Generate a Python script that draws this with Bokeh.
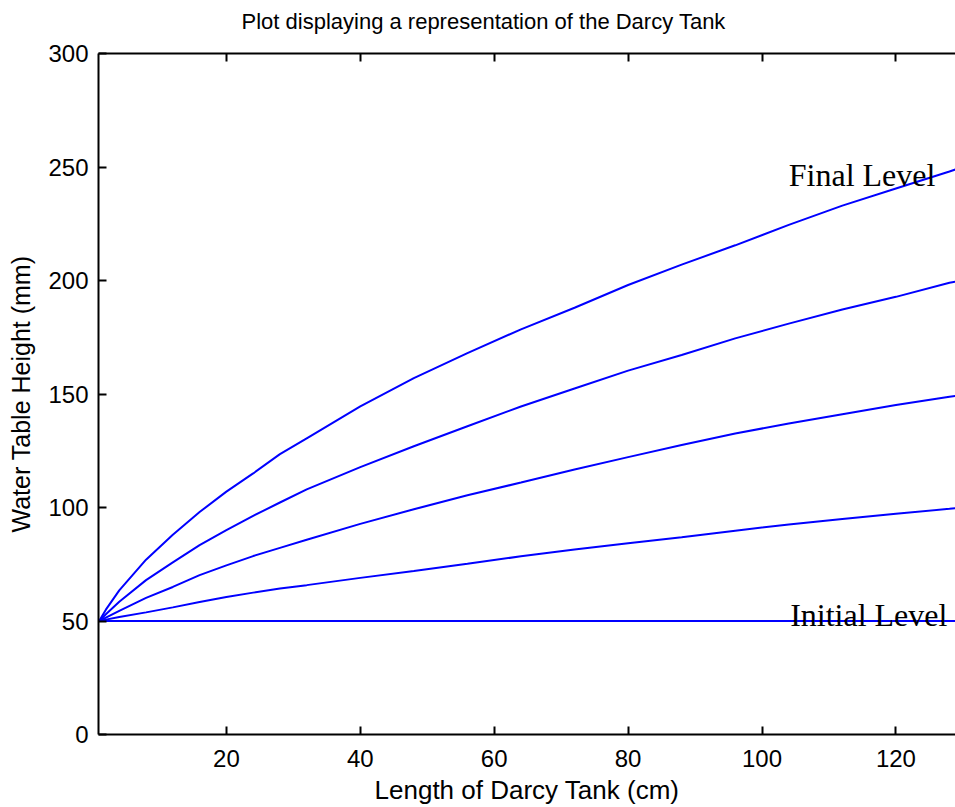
from bokeh.plotting import figure
from bokeh.models import Range1d, LinearAxis, FixedTicker, Label
from bokeh.embed import file_html
from bokeh.resources import INLINE

title_text = "Plot displaying a representation of the Darcy Tank"
x_label = "Length of Darcy Tank (cm)"
y_label = "Water Table Height (mm)"

# Length along the tank (cm)
length_cm = [1, 2, 4, 8, 12, 16, 20, 24, 28, 32, 40, 48, 56, 64, 72, 80, 88, 96, 104, 112, 120, 128, 129]
# Water table heights (mm)
level_100 = [50, 50.6, 51.8, 53.8, 56, 58.4, 60.6, 62.5, 64.3, 65.8, 69, 72, 75.2, 78.5, 81.5, 84.2, 86.9, 89.8, 92.5, 94.9, 97.2, 99.4, 99.7]
level_150 = [50, 51.5, 54.5, 60.2, 65, 70.2, 74.5, 78.6, 82.2, 85.8, 92.8, 99.2, 105.4, 111, 116.7, 122.2, 127.5, 132.6, 137, 141.1, 145.2, 148.8, 149.2]
level_200 = [50, 53, 58.5, 68, 75.8, 83.4, 90, 96.3, 102.2, 108, 117.8, 127, 135.8, 144.5, 152.4, 160.3, 167.2, 174.5, 181, 187.2, 192.8, 199, 199.5]
level_250 = [50, 55, 63.5, 77, 88, 98, 107, 115, 123.5, 130.5, 144.5, 157, 168, 178.5, 188, 198, 207, 215.5, 224.5, 233, 240.5, 248, 249]
initial_x = [1, 129]
initial_y = [50, 50]

x_ticks = [20, 40, 60, 80, 100, 120]
y_ticks = [0, 50, 100, 150, 200, 250, 300]

annot_text = ["Final Level", "Initial Level"]
annot_x = [104, 104.2]
annot_y = [246.5, 52.8]

FONT = "Liberation Sans"
SERIF = "Liberation Serif"
BLUE = "#0000ff"

p = figure(width=955, height=807, x_range=Range1d(0.9, 128.9), y_range=Range1d(0, 300),
           output_backend="svg", toolbar_location=None, title=title_text,
           min_border_left=98, min_border_right=0, min_border_top=53, min_border_bottom=72)
p.background_fill_color = "white"
p.border_fill_color = "white"
p.outline_line_color = None
p.xgrid.visible = False
p.ygrid.visible = False

p.title.text_font = FONT
p.title.text_font_size = "22px"
p.title.text_font_style = "normal"
p.title.text_color = "black"
p.title.align = "left"
p.title.offset = 143
p.title.standoff = 3


def style_axis(ax):
    ax.axis_line_width = 2
    ax.axis_line_color = "black"
    ax.major_tick_line_width = 2
    ax.major_tick_line_color = "black"
    ax.major_tick_in = 8
    ax.major_tick_out = 0
    ax.minor_tick_line_color = None
    ax.major_label_text_font = FONT
    ax.major_label_text_font_size = "24px"
    ax.major_label_text_color = "black"
    ax.axis_label_text_font = FONT
    ax.axis_label_text_font_size = "25px"
    ax.axis_label_text_font_style = "normal"
    ax.axis_label_text_color = "black"


xa = p.xaxis[0]
style_axis(xa)
xa.ticker = FixedTicker(ticks=x_ticks)
xa.major_label_standoff = 15
xa.axis_label = x_label
xa.axis_label_text_font_size = "26px"
xa.axis_label_standoff = 5

ya = p.yaxis[0]
style_axis(ya)
ya.ticker = FixedTicker(ticks=y_ticks)
ya.major_label_standoff = 10
ya.axis_label = y_label
ya.axis_label_standoff = 10

top = LinearAxis(ticker=FixedTicker(ticks=x_ticks),
                 major_label_overrides={t: " " for t in x_ticks})
style_axis(top)
top.major_label_text_font_size = "1px"
top.major_label_standoff = 14
p.add_layout(top, "above")

for ys in [level_100, level_150, level_200, level_250]:
    p.line(length_cm, ys, line_color=BLUE, line_width=2)
p.line(initial_x, initial_y, line_color=BLUE, line_width=2)

for t, x, y in zip(annot_text, annot_x, annot_y):
    p.add_layout(Label(x=x, y=y, text=t, text_font=SERIF, text_font_size="32px",
                       text_color="black", text_baseline="alphabetic", text_align="left"))

open("out.html", "w").write(file_html(p, INLINE))
